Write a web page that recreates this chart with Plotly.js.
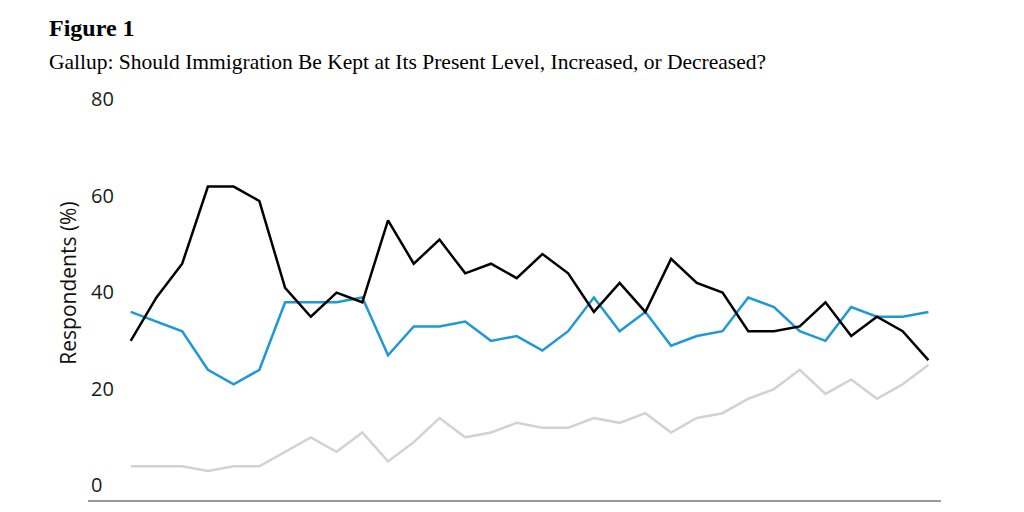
<!DOCTYPE html>
<html>
<head>
<meta charset="utf-8">
<script src="https://cdn.plot.ly/plotly-3.0.1.min.js"></script>
<style>html,body{margin:0;padding:0;background:#fff;}#chart{width:1024px;height:512px;}</style>
</head>
<body>
<div id="chart"></div>
<script>
// Survey index (32 Gallup readings, oldest to newest)
const surveyIndex = Array.from({length: 32}, (_, i) => i);
const decreased = [33, 42, 49, 65, 65, 62, 44, 38, 43, 41, 58, 49, 54, 47, 49, 46, 51, 47, 39, 45, 39, 50, 45, 43, 35, 35, 36, 41, 34, 38, 35, 29];
const presentLevel = [39, 37, 35, 27, 24, 27, 41, 41, 41, 42, 30, 36, 36, 37, 33, 34, 31, 35, 42, 35, 39, 32, 34, 35, 42, 40, 35, 33, 40, 38, 38, 39];
const increased = [7, 7, 7, 6, 7, 7, 10, 13, 10, 14, 8, 12, 17, 13, 14, 16, 15, 15, 17, 16, 18, 14, 17, 18, 21, 23, 27, 22, 25, 21, 24, 28];
const yTicks = [0, 20, 40, 60, 80];

const traces = [
  {x: surveyIndex, y: increased, name: 'Increased', type: 'scatter', mode: 'lines', line: {color: '#d2d2d2', width: 2.5}},
  {x: surveyIndex, y: presentLevel, name: 'Present level', type: 'scatter', mode: 'lines', line: {color: '#1f98d5', width: 2.5}},
  {x: surveyIndex, y: decreased, name: 'Decreased', type: 'scatter', mode: 'lines', line: {color: '#000000', width: 2.5}}
];

const H = 512, bottomMargin = 11.5, yMax = 90, pxPerUnit = 4.83;
const plotH = yMax * pxPerUnit;
const plotTop = H - bottomMargin - plotH;
const zeroPix = H - bottomMargin;
const py = (pix) => (zeroPix - pix) / plotH;

const layout = {
  width: 1024, height: H,
  margin: {l: 88, r: 83, t: plotTop, b: bottomMargin},
  paper_bgcolor: '#ffffff', plot_bgcolor: '#ffffff',
  showlegend: false,
  xaxis: {
    range: [-1.66, 31.49], showticklabels: false, showgrid: false, zeroline: false,
    showline: true, linecolor: '#999999', linewidth: 1.5, ticks: ''
  },
  yaxis: {
    range: [0, yMax], tickvals: yTicks, ticktext: yTicks.map(String),
    showgrid: false, zeroline: false, showline: false, ticks: '',
    ticklabelposition: 'inside top', ticklabelstandoff: 0, ticklabelshift: -1,
    tickfont: {family: 'Open Sans, sans-serif', size: 20, color: '#1a1a1a'},
    title: {text: 'Respondents (%)', standoff: 8, font: {family: 'Open Sans, sans-serif', size: 21, color: '#111111'}}
  },
  annotations: [
    {text: '<b>Figure 1</b>', xref: 'paper', yref: 'paper', x: -0.048, y: py(28), xanchor: 'left', yanchor: 'middle', showarrow: false,
     font: {family: 'Liberation Serif, Times New Roman, serif', size: 24, color: '#000000'}},
    {text: 'Gallup: Should Immigration Be Kept at Its Present Level, Increased, or Decreased?', xref: 'paper', yref: 'paper', x: -0.048, y: py(62), xanchor: 'left', yanchor: 'middle', showarrow: false,
     font: {family: 'Liberation Serif, Times New Roman, serif', size: 21.5, color: '#000000'}}
  ]
};

Plotly.newPlot('chart', traces, layout, {displayModeBar: false, staticPlot: true});
</script>
</body>
</html>
